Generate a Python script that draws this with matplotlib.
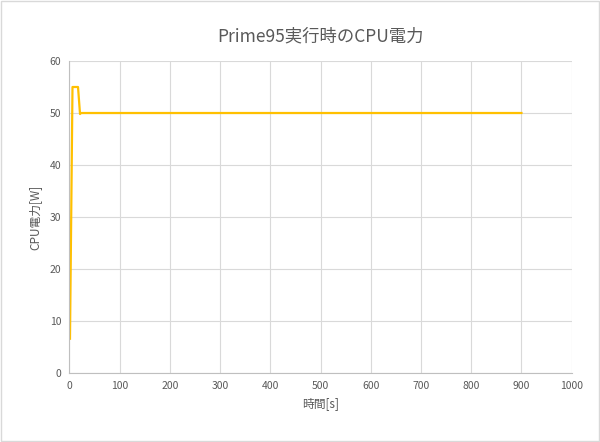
import matplotlib
matplotlib.use('Agg')
import matplotlib.pyplot as plt
from matplotlib.patches import Rectangle

plt.rcParams['font.family'] = ['Noto Sans CJK JP', 'DejaVu Sans']

# 時間[s] と CPU電力[W]
time_s = [1, 6, 17, 21, 23, 900]
power_w = [6.6, 55, 55, 49.8, 50, 50]

fig = plt.figure(figsize=(6, 4.42), dpi=100)
ax = fig.add_axes([0.1158, 0.156, 0.837, 0.706])

ax.plot(time_s, power_w, color='#FFC000', linewidth=1.6)

ax.set_xlim(0, 1000)
ax.set_ylim(0, 60)
ax.set_xticks(range(0, 1001, 100))
ax.set_yticks(range(0, 61, 10))
ax.grid(True, color='#d9d9d9', linewidth=0.8)
ax.set_axisbelow(True)
for s in ['top', 'right']:
    ax.spines[s].set_visible(False)
for s in ['left', 'bottom']:
    ax.spines[s].set_color('#bfbfbf')
    ax.spines[s].set_linewidth(0.8)
ax.tick_params(length=0, labelsize=7.5, colors='#595959', pad=6)

ax.set_title('Prime95実行時のCPU電力', fontsize=12.5, color='#595959', pad=14)
ax.set_xlabel('時間[s]', fontsize=8.5, color='#595959')
ax.set_ylabel('CPU電力[W]', fontsize=8.5, color='#595959', labelpad=6)

fig.patches.append(Rectangle((0.002, 0.002), 0.996, 0.995, transform=fig.transFigure,
                             fill=False, edgecolor='#d9d9d9', linewidth=1))

fig.savefig('out.png', dpi=100)
plt.close()
